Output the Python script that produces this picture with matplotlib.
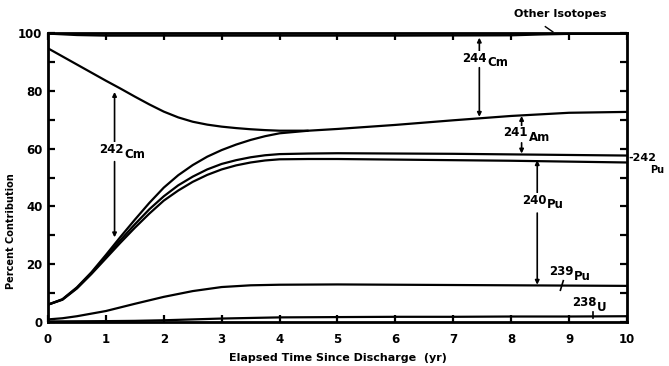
import matplotlib
matplotlib.use("Agg")
import matplotlib.pyplot as plt

plt.rcParams["font.family"] = ["Liberation Sans Narrow", "DejaVu Sans"]
plt.rcParams["font.weight"] = "bold"

# cumulative boundaries between isotope contributions (percent)
t_main = [0, 0.25, 0.5, 0.75, 1, 1.25, 1.5, 1.75, 2, 2.25, 2.5, 2.75,
          3, 3.25, 3.5, 3.75, 4, 4.5, 5, 6, 7, 8, 9, 10]
pu240_top = [6.0, 7.7, 11.6, 16.6, 22.0, 27.4, 32.6, 37.5, 42.0, 45.5, 48.5, 50.9,
             52.8, 54.2, 55.2, 55.9, 56.3, 56.4, 56.4, 56.2, 56.0, 55.8, 55.5, 55.2]
pu242_top = [6.0, 7.8, 11.8, 16.9, 22.6, 28.3, 33.8, 39.0, 43.5, 47.3, 50.3, 52.8,
             54.7, 56.0, 57.0, 57.7, 58.1, 58.3, 58.4, 58.3, 58.2, 58.0, 57.8, 57.6]
am241_top = [6.0, 7.9, 12.0, 17.2, 23.2, 29.4, 35.4, 41.2, 46.5, 50.8, 54.3, 57.2,
             59.5, 61.4, 63.0, 64.3, 65.3, 66.2, 66.8, 68.2, 69.8, 71.3, 72.4, 72.7]

t_cm242 = [0, 0.25, 0.5, 0.75, 1, 1.25, 1.5, 1.75, 2, 2.25, 2.5, 2.75,
           3, 3.25, 3.5, 3.75, 4, 4.5]
cm242_top = [94.7, 91.9, 89.1, 86.3, 83.5, 80.8, 78.0, 75.3, 72.8, 70.8, 69.3, 68.3,
             67.6, 67.1, 66.7, 66.4, 66.2, 66.2]

t_pu239 = [0, 0.25, 0.5, 0.75, 1, 1.5, 2, 2.5, 3, 3.5, 4, 5, 6, 7, 8, 9, 10]
pu239_top = [0.9, 1.3, 2.0, 2.9, 3.8, 6.3, 8.7, 10.7, 12.1, 12.7, 12.9, 13.0,
             12.9, 12.8, 12.7, 12.6, 12.5]

t_u238 = [0, 1, 1.5, 2, 2.5, 3, 3.5, 4, 5, 6, 7, 8, 9, 10]
u238_top = [0.2, 0.3, 0.4, 0.6, 0.9, 1.2, 1.4, 1.6, 1.7, 1.8, 1.8, 1.9, 1.9, 2.0]

t_cm244 = [0, 0.5, 1, 2, 4, 6, 8, 8.5, 9, 10]
cm244_top = [99.8, 99.3, 99.1, 99.1, 99.1, 99.1, 99.2, 99.5, 99.7, 99.8]

x_ticks = list(range(0, 11))
y_ticks = [0, 20, 40, 60, 80, 100]

fig = plt.figure(figsize=(6.69, 3.66), dpi=100)
ax = fig.add_axes([0.0717, 0.1202, 0.8655, 0.7896])

lw = 1.6
for t, y in [(t_u238, u238_top), (t_pu239, pu239_top), (t_main, pu240_top),
             (t_main, pu242_top), (t_main, am241_top), (t_cm242, cm242_top),
             (t_cm244, cm244_top)]:
    ax.plot(t, y, color="black", lw=lw, solid_capstyle="butt",
            solid_joinstyle="round")

ax.set_xlim(0, 10)
ax.set_ylim(0, 100)
ax.set_xticks(x_ticks)
ax.set_yticks(y_ticks)
ax.set_yticks(range(10, 100, 20), minor=True)
ax.tick_params(axis="both", which="both", direction="in", length=5, width=1.6,
               top=True, right=True, labelsize=8.5)
ax.tick_params(axis="x", pad=8)
ax.tick_params(axis="y", pad=4)
for lab in ax.get_xticklabels() + ax.get_yticklabels():
    lab.set_fontweight("bold")
for sp in ax.spines.values():
    sp.set_linewidth(2)

ax.set_xlabel("Elapsed Time Since Discharge  (yr)", fontsize=8, fontweight="bold",
              labelpad=5)
fig.text(0.016, 1 - 231 / 366, "Percent Contribution", rotation=90, fontsize=7,
         fontweight="bold", ha="center", va="center")


def arrow(x, y0, y1):
    ax.annotate("", xy=(x, y1), xytext=(x, y0),
                arrowprops=dict(arrowstyle="-|>", color="black", lw=1.2,
                                mutation_scale=6, shrinkA=0, shrinkB=0))


def iso_label(x, y, mass, elem, fs=8.5):
    box = dict(fc="white", ec="none", pad=0.4)
    ax.annotate(mass, (x, y), xytext=(0, 1.6), textcoords="offset points",
                ha="right", va="center", fontsize=fs, fontweight="bold",
                annotation_clip=False, bbox=box, zorder=5)
    ax.annotate(elem, (x, y), xytext=(0.5, -1.6), textcoords="offset points",
                ha="left", va="center", fontsize=fs, fontweight="bold",
                annotation_clip=False, bbox=box, zorder=5)


# 242Cm
arrow(1.15, 62.4, 79.6)
arrow(1.15, 55.5, 29.3)
iso_label(1.31, 58.9, "242", "Cm")

# 244Cm
arrow(7.45, 92.4, 98.4)
arrow(7.45, 88.0, 71.0)
iso_label(7.57, 90.4, "244", "Cm")

# 241Am
arrow(8.18, 67.8, 71.3)
arrow(8.18, 62.0, 58.3)
iso_label(8.29, 64.7, "241", "Am")

# 240Pu
arrow(8.45, 44.8, 56.0)
arrow(8.45, 37.7, 12.9)
iso_label(8.61, 41.4, "240", "Pu")

# 239Pu and 238U pointers
ax.plot([8.9, 8.85], [14.3, 11.0], color="black", lw=1.2)
iso_label(9.07, 16.6, "239", "Pu")
ax.plot([9.42, 9.42], [3.6, 1.3], color="black", lw=1.2)
iso_label(9.47, 5.9, "238", "U")

# 242Pu label outside the right edge
ax.text(10.02, 56.6, "-242", fontsize=8, fontweight="bold", ha="left",
        va="center", clip_on=False)
ax.text(10.4, 52.6, "Pu", fontsize=7, fontweight="bold", ha="left",
        va="center", clip_on=False)

# other isotopes
ax.plot([8.59, 8.72], [102.2, 100.4], color="black", lw=1.0, clip_on=False)
ax.text(8.84, 106.6, "Other Isotopes", fontsize=8, fontweight="bold",
        ha="center", va="center", clip_on=False)

fig.savefig("out.png", dpi=100)
